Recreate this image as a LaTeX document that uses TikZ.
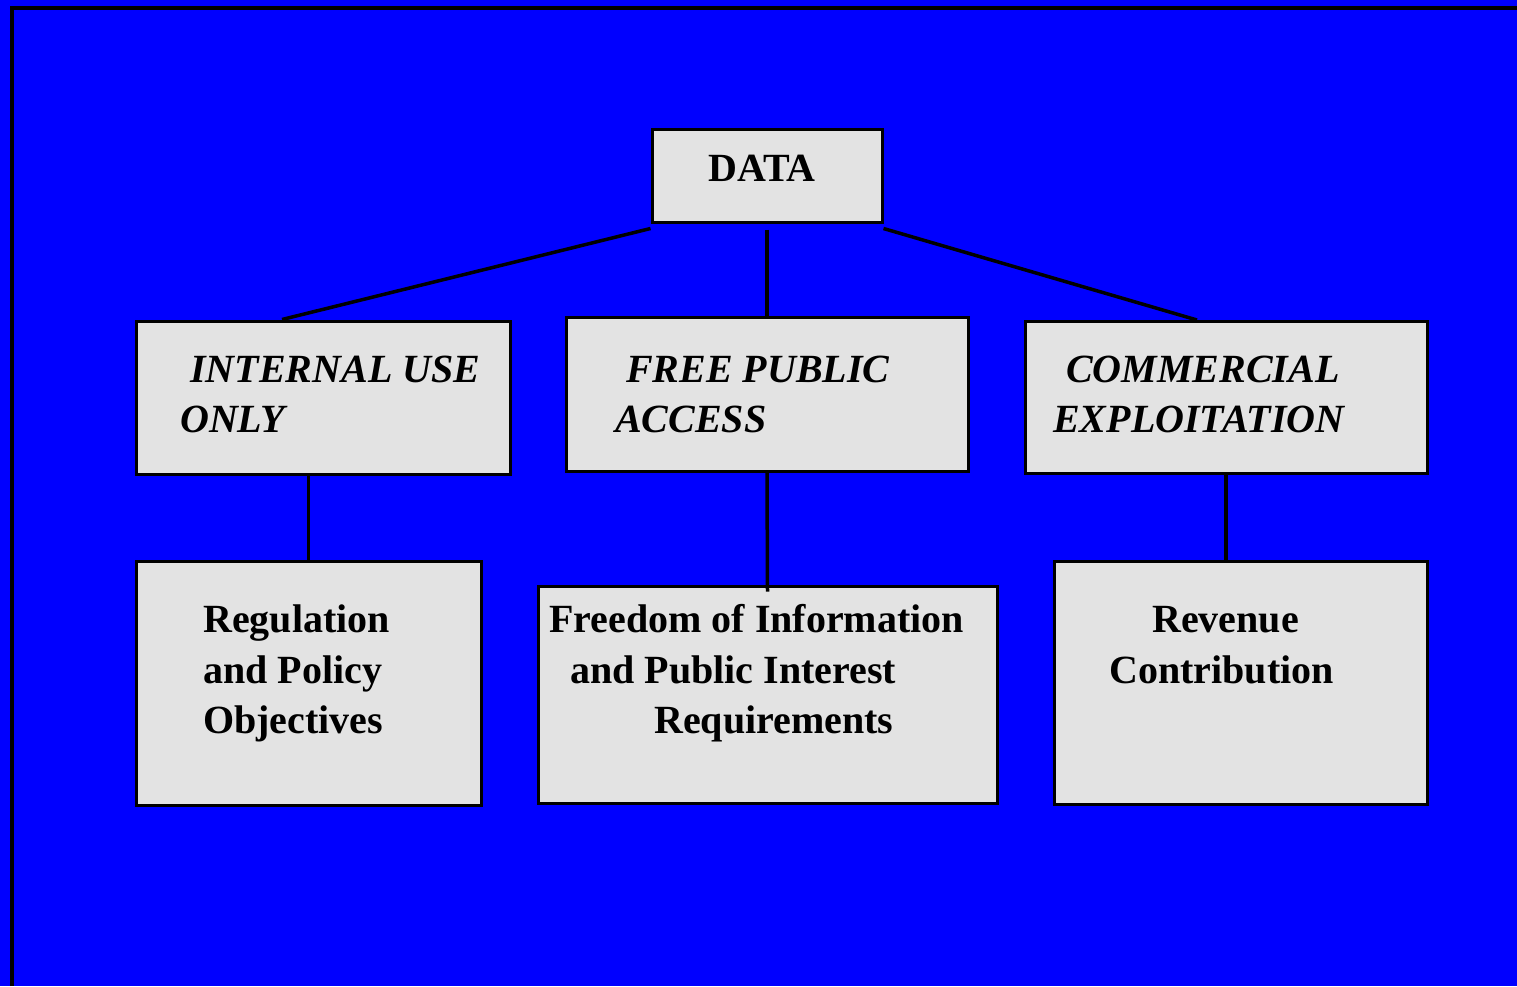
\documentclass[tikz,border=0pt]{standalone}
\usepackage{fontspec}
\setmainfont{Liberation Serif}
\definecolor{bgblue}{HTML}{0000FF}
\definecolor{boxgray}{HTML}{E3E3E3}
\begin{document}
\begin{tikzpicture}[x=1pt,y=-1pt,
  box/.style={draw=black,line width=3pt,fill=boxgray,rectangle,inner sep=0pt},
  conn/.style={draw=black,line width=3.5pt},
  lbl/.style={anchor=base west,inner sep=0pt,font=\fontsize{40}{50}\selectfont\bfseries},
  ilbl/.style={lbl,font=\fontsize{40}{50}\selectfont\bfseries\itshape}]
\fill[bgblue] (0,0) rectangle (1517,986);
\useasboundingbox (0,0) rectangle (1517,986);
\draw[line width=4pt] (12,986) -- (12,8) -- (1517,8);
% boxes
\node[box,minimum width=230pt,minimum height=93pt] (data) at (767,175.5) {};
\node[box,minimum width=374pt,minimum height=153pt] (int) at (323,397.5) {};
\node[box,minimum width=402pt,minimum height=154pt] (free) at (767,394.5) {};
\node[box,minimum width=402pt,minimum height=152pt] (comm) at (1226,397.5) {};
\node[box,minimum width=345pt,minimum height=244pt] (reg) at (308.5,683) {};
\node[box,minimum width=459pt,minimum height=217pt] (foi) at (767.5,694.5) {};
\node[box,minimum width=373pt,minimum height=243pt] (rev) at (1240.5,682.5) {};
% connectors
\draw[conn] ([yshift=-5pt]data.south west) -- ([xshift=-41pt]int.north);
\draw[conn] ([yshift=-6pt]data.south) -- (free.north);
\draw[conn] ([yshift=-5pt]data.south east) -- ([xshift=-29pt]comm.north);
\draw[conn] ([xshift=-14.5pt]int.south) -- (reg.north);
\draw[conn] (free.south) -- ([yshift=-7pt]foi.north);
\draw[conn] (comm.south) -- ([xshift=-14.5pt]rev.north);
% texts
\node[lbl] (tdata) at (708,181) {DATA};
\node[ilbl] (tintA) at (190,382) {INTERNAL USE};
\node[ilbl] (tintB) at (180,432) {ONLY};
\node[ilbl] (tfreeA) at (626,382) {FREE PUBLIC};
\node[ilbl] (tfreeB) at (615,432) {ACCESS};
\node[ilbl] (tcommA) at (1066,382) {COMMERCIAL};
\node[ilbl] (tcommB) at (1053,432) {EXPLOITATION};
\node[lbl] (tregA) at (203,632) {Regulation};
\node[lbl] (tregB) at (203,683) {and Policy};
\node[lbl] (tregC) at (203,733) {Objectives};
\node[lbl] (tfoiA) at (549,632) {Freedom of Information};
\node[lbl] (tfoiB) at (570,683) {and Public Interest};
\node[lbl] (tfoiC) at (654,733) {Requirements};
\node[lbl] (trevA) at (1152,632) {Revenue};
\node[lbl] (trevB) at (1109,683) {Contribution};
\end{tikzpicture}
\end{document}
